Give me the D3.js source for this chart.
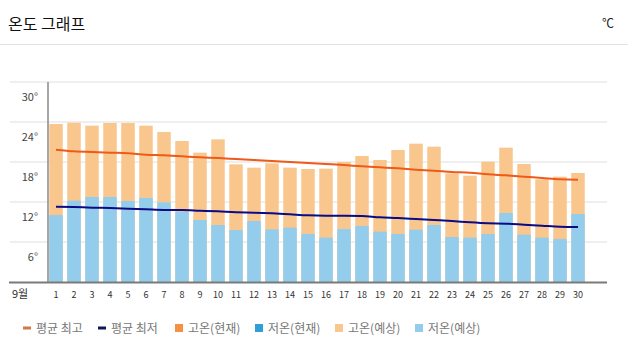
<!DOCTYPE html>
<html><head><meta charset="utf-8">
<script src="https://cdn.jsdelivr.net/npm/d3@7"></script>
<style>
html,body{margin:0;padding:0;background:#fff;}
svg{display:block;font-family:"Noto Sans CJK KR","Noto Sans",sans-serif;}
</style></head>
<body>
<svg id="chart" width="628" height="355"></svg>
<script>
const days = d3.range(1, 31);
const dayLabels = days.map(String);
const highForecast = [23.7,23.9,23.45,23.85,23.85,23.45,22.5,21.15,19.4,21.4,17.65,17.15,17.8,17.15,16.95,17.0,18.0,18.9,18.3,19.8,20.75,20.3,16.3,15.95,18.05,20.15,17.7,15.4,15.8,16.35];
const lowForecast = [10.05,12.2,12.75,12.75,12.15,12.6,11.95,10.55,9.3,8.55,7.8,9.15,7.9,8.15,7.2,6.65,7.95,8.4,7.55,7.2,7.85,8.55,6.75,6.65,7.2,10.35,7.1,6.65,6.45,10.2];
const avgHigh = [19.85,19.6,19.5,19.4,19.3,19.1,19.0,18.85,18.7,18.6,18.45,18.3,18.15,18.0,17.85,17.7,17.55,17.35,17.2,17.05,16.85,16.7,16.5,16.4,16.15,16.0,15.8,15.6,15.4,15.35];
const avgLow = [11.3,11.25,11.15,11.1,11.0,10.9,10.8,10.8,10.7,10.6,10.45,10.4,10.3,10.15,10.0,9.95,9.95,9.9,9.7,9.6,9.45,9.3,9.15,8.95,8.8,8.75,8.6,8.45,8.3,8.25];
const yTicks = [6,12,18,24,30];
const monthLabel = "9월";
const legendItems = ["평균 최고","평균 최저","고온(현재)","저온(현재)","고온(예상)","저온(예상)"];
const title = "온도 그래프";
const unit = "℃";

const C = {
  avgHigh:"#ee5a1a", avgLow:"#0b0b85",
  hiNow:"#f59142", loNow:"#2f9fd6",
  hiFc:"#f9c78e", loFc:"#94cdeb",
  legendHigh:"#d07a4a", legendLow:"#14145e"
};
const legendColors = [C.legendHigh, C.legendLow, C.hiNow, C.loNow, C.hiFc, C.loFc];

const svg = d3.select("#chart");

// header
svg.append("text").attr("x",8).attr("y",30).attr("font-size",16).attr("fill","#111").text(title);
svg.append("text").attr("x",614).attr("y",28).attr("text-anchor","end").attr("font-size",12).attr("fill","#222").text(unit);
svg.append("line").attr("x1",0).attr("x2",628).attr("y1",44.5).attr("y2",44.5).attr("stroke","#e2e2e2").attr("stroke-width",1);

const x = d3.scaleBand().domain(days).range([47,587]).paddingInner(0.25).paddingOuter(0.125);
const y = d3.scaleLinear().domain([0,30]).range([282,82]);

// gridlines
svg.append("g").selectAll("line").data(yTicks).join("line")
  .attr("x1",10).attr("x2",607)
  .attr("y1",d=>y(d)).attr("y2",d=>y(d))
  .attr("stroke","#efefef").attr("stroke-width",2);

// y labels (placed below the gridline)
svg.append("g").selectAll("text").data(yTicks).join("text")
  .attr("x",38).attr("y",d=>y(d)+19)
  .attr("text-anchor","end").attr("font-size",11).attr("fill","#444")
  .text(d=>d+"°");

// bars
svg.append("g").selectAll("rect").data(days).join("rect")
  .attr("x",d=>x(d)).attr("width",x.bandwidth())
  .attr("y",(d,i)=>y(highForecast[i])).attr("height",(d,i)=>y(0)-y(highForecast[i]))
  .attr("fill",C.hiFc);
svg.append("g").selectAll("rect").data(days).join("rect")
  .attr("x",d=>x(d)).attr("width",x.bandwidth())
  .attr("y",(d,i)=>y(lowForecast[i])).attr("height",(d,i)=>y(0)-y(lowForecast[i]))
  .attr("fill",C.loFc);

// axes lines
svg.append("line").attr("x1",48).attr("x2",48).attr("y1",y(30)).attr("y2",y(0)).attr("stroke","#888").attr("stroke-width",1.5);
svg.append("line").attr("x1",9).attr("x2",607).attr("y1",y(0)+0.5).attr("y2",y(0)+0.5).attr("stroke","#7a7a7a").attr("stroke-width",2);

// average lines
const line = arr => d3.line().x((d,i)=>x(d)+x.bandwidth()/2).y((d,i)=>y(arr[i])).curve(d3.curveMonotoneX)(days);
svg.append("path").attr("d",line(avgHigh)).attr("fill","none").attr("stroke",C.avgHigh).attr("stroke-width",2);
svg.append("path").attr("d",line(avgLow)).attr("fill","none").attr("stroke",C.avgLow).attr("stroke-width",2);

// x labels
svg.append("g").selectAll("text").data(days).join("text")
  .attr("x",d=>x(d)+x.bandwidth()/2).attr("y",298)
  .attr("text-anchor","middle").attr("font-size",9).attr("fill","#333")
  .text((d,i)=>dayLabels[i]);
svg.append("text").attr("x",12).attr("y",298).attr("font-size",11).attr("fill","#333").text(monthLabel);

// legend
const lx = [23,98,175,255,335,415];
const lg = svg.append("g").selectAll("g").data(legendItems).join("g")
  .attr("transform",(d,i)=>`translate(${lx[i]},328)`);
lg.each(function(d,i){
  const g = d3.select(this);
  if(i<2){
    g.append("rect").attr("x",0).attr("y",-1.5).attr("width",8).attr("height",3).attr("fill",legendColors[i]);
  } else {
    g.append("rect").attr("x",0).attr("y",-4).attr("width",8).attr("height",8).attr("fill",legendColors[i]);
  }
  g.append("text").attr("x",13).attr("y",4.5).attr("font-size",12).attr("fill","#777").text(d);
});
</script>
</body></html>
